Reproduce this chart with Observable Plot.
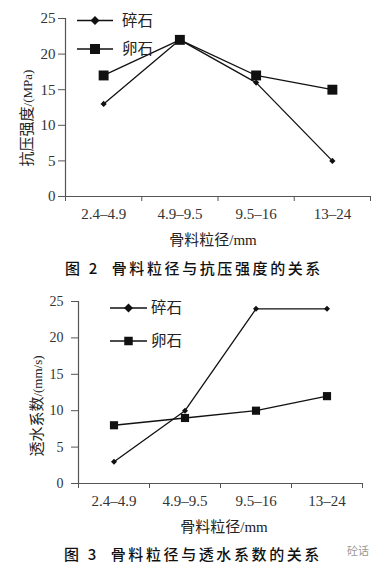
<!DOCTYPE html>
<html><head><meta charset="utf-8">
<script src="https://cdn.jsdelivr.net/npm/d3@7"></script>
<script src="https://cdn.jsdelivr.net/npm/@observablehq/plot@0.6"></script>
<style>
body{margin:0;background:#fff;}
#root{position:relative;width:379px;height:566px;overflow:hidden;background:#fff;font-family:"Noto Sans CJK SC",sans-serif;color:#222;}
.abs{position:absolute;white-space:nowrap;}
.c{transform:translate(-50%,-50%);}
.rot{transform:translate(-50%,-50%) rotate(-90deg);}
.serif{font-family:"Liberation Serif",serif;}
.cap{font-size:15px;letter-spacing:2.6px;color:#111;font-weight:500;}
</style></head>
<body><div id="root"></div>
<script>
const categories = ["2.4–4.9", "4.9–9.5", "9.5–16", "13–24"];
const yTicks = [0, 5, 10, 15, 20, 25];
const seriesNames = ["碎石", "卵石"];
// Figure 2: compressive strength (MPa)
const strengthCrushed = [13, 22, 16, 5];
const strengthPebble = [17, 22, 17, 15];
// Figure 3: permeability coefficient (mm/s)
const permCrushed = [3, 10, 24, 24];
const permPebble = [8, 9, 10, 12];

const root = document.getElementById("root");

function makeChart(o) {
  const rows = [
    ...o.crushed.map((v, i) => ({pos: i + 0.5, v, s: seriesNames[0]})),
    ...o.pebble.map((v, i) => ({pos: i + 0.5, v, s: seriesNames[1]}))
  ];
  const svg = Plot.plot({
    width: 379, height: o.height,
    marginTop: o.mt, marginBottom: o.mb, marginLeft: o.ml, marginRight: o.mr,
    style: {background: "transparent", color: "#333", fontFamily: "Liberation Serif, serif", fontSize: o.fs + "px"},
    x: {domain: [0, categories.length], axis: null},
    y: {domain: [0, 25], axis: null},
    marks: [
      Plot.ruleY([0], {stroke: "#555", strokeWidth: 1.2}),
      Plot.ruleX([0], {stroke: "#555", strokeWidth: 1.2}),
      Plot.axisY({ticks: yTicks, tickSize: 7, tickPadding: o.yPad, label: null, fontSize: o.yfs, stroke: "#555"}),
      Plot.axisX({ticks: d3.range(categories.length + 1), tickSize: 5, tickFormat: () => "", label: null, stroke: "#555"}),
      Plot.axisX({ticks: categories.map((c, i) => i + 0.5), tickSize: 0, tickPadding: 12, tickFormat: d => categories[Math.floor(d)], label: null, fontSize: o.fs}),
      Plot.line(rows, {x: "pos", y: "v", z: "s", stroke: "#111", strokeWidth: 1.3}),
      Plot.dot(rows.filter(d => d.s === seriesNames[0]), {x: "pos", y: "v", symbol: "diamond2", r: o.dr, fill: "#111", stroke: "none"}),
      Plot.dot(rows.filter(d => d.s === seriesNames[1]), {x: "pos", y: "v", symbol: "square", r: o.sr, fill: "#111", stroke: "none"})
    ]
  });
  svg.style.position = "absolute";
  svg.style.left = "0px";
  svg.style.top = o.top + "px";
  root.appendChild(svg);
}

function addText(html, cls, x, y, style) {
  const d = document.createElement("div");
  d.className = "abs " + cls;
  d.style.left = x + "px"; d.style.top = y + "px";
  if (style) d.style.cssText += style;
  d.innerHTML = html;
  root.appendChild(d);
}

function addLegend(x0, x1, y, gap, fs, dr, sq, tx) {
  const ns = "http://www.w3.org/2000/svg";
  const s = document.createElementNS(ns, "svg");
  s.setAttribute("width", 379); s.setAttribute("height", 566);
  s.style.position = "absolute"; s.style.left = "0"; s.style.top = "0";
  const mid = (x0 + x1) / 2;
  seriesNames.forEach((name, k) => {
    const yy = y + k * gap;
    const l = document.createElementNS(ns, "line");
    l.setAttribute("x1", x0); l.setAttribute("x2", x1); l.setAttribute("y1", yy); l.setAttribute("y2", yy);
    l.setAttribute("stroke", "#111"); l.setAttribute("stroke-width", 1.3);
    s.appendChild(l);
    let m;
    if (k === 0) {
      m = document.createElementNS(ns, "path");
      m.setAttribute("d", `M${mid},${yy - dr}L${mid + dr},${yy}L${mid},${yy + dr}L${mid - dr},${yy}Z`);
    } else {
      m = document.createElementNS(ns, "rect");
      m.setAttribute("x", mid - sq / 2); m.setAttribute("y", yy - sq / 2);
      m.setAttribute("width", sq); m.setAttribute("height", sq);
    }
    m.setAttribute("fill", "#111");
    s.appendChild(m);
    const t = document.createElementNS(ns, "text");
    t.setAttribute("x", tx); t.setAttribute("y", yy); t.setAttribute("dy", "0.35em");
    t.setAttribute("font-size", fs); t.setAttribute("fill", "#222");
    t.setAttribute("font-family", "Noto Sans CJK SC, sans-serif");
    t.textContent = name;
    s.appendChild(t);
  });
  root.appendChild(s);
}

// Figure 2
makeChart({top: 0, height: 226, mt: 18, mb: 30, ml: 65, mr: 9, crushed: strengthCrushed, pebble: strengthPebble, fs: 15, yfs: 15, yPad: 3, dr: 2.8, sr: 5.6});
addLegend(77, 113, 20.5, 28.5, 15.5, 4.5, 10, 122);
addText('<span style="font-size:15px">抗压强度</span><span class="serif" style="font-size:13px">/(MPa)</span>', "rot", 25, 118);
addText('<span style="font-size:15px">骨料粒径</span><span class="serif" style="font-size:15px">/mm</span>', "c", 213, 238);
addText('图 2&nbsp; 骨料粒径与抗压强度的关系', "c cap", 194, 267);

// Figure 3
makeChart({top: 280, height: 230, mt: 21, mb: 27, ml: 78, mr: 17, crushed: permCrushed, pebble: permPebble, fs: 15, yfs: 14, yPad: 8, dr: 2.7, sr: 4.6});
addLegend(110, 147, 308, 33, 15.5, 4.5, 8.5, 151);
addText('<span style="font-size:15px">透水系数</span><span class="serif" style="font-size:13px">/(mm/s)</span>', "rot", 35, 406);
addText('<span style="font-size:15px">骨料粒径</span><span class="serif" style="font-size:15px">/mm</span>', "c", 224, 525);
addText('图 3&nbsp; 骨料粒径与透水系数的关系', "c cap", 193, 553);
addText('砼话', "c", 358, 550, "font-size:11px;color:#999;");
</script></body></html>
